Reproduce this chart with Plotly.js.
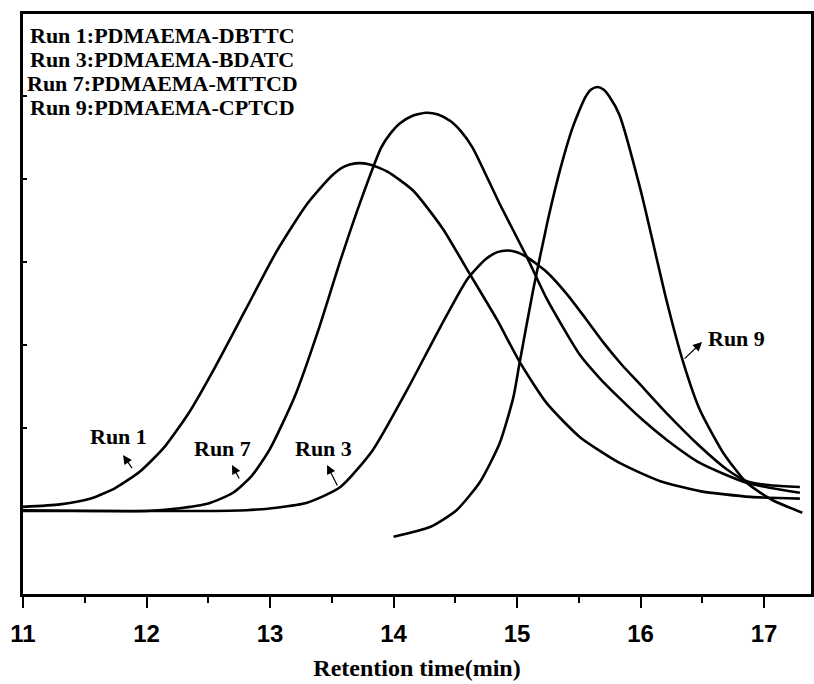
<!DOCTYPE html>
<html>
<head>
<meta charset="utf-8">
<script src="https://cdn.plot.ly/plotly-3.0.1.min.js"></script>
<style>
  html, body { margin: 0; padding: 0; background: #fff; }
  #gpc { width: 814px; height: 684px; }
</style>
</head>
<body>
<div id="gpc"></div>
<script>
// GPC traces: retention time (min) vs detector response (arbitrary units)
const run1X = [11.00, 11.30, 11.55, 11.75, 11.95, 12.15, 12.35, 12.55, 12.80, 13.05, 13.30, 13.50, 13.60, 13.69, 13.80, 13.95, 14.16, 14.40, 14.60, 14.84, 15.02, 15.24, 15.51, 15.83, 16.16, 16.48, 16.89, 17.29];
const run1Y = [1.05, 1.08, 1.15, 1.28, 1.48, 1.78, 2.20, 2.72, 3.42, 4.12, 4.70, 5.04, 5.15, 5.19, 5.18, 5.09, 4.86, 4.40, 3.90, 3.30, 2.80, 2.30, 1.89, 1.58, 1.36, 1.24, 1.17, 1.15];

const run3X = [11.00, 12.40, 12.81, 13.05, 13.30, 13.57, 13.83, 14.11, 14.38, 14.60, 14.75, 14.84, 14.92, 15.00, 15.08, 15.24, 15.40, 15.55, 15.70, 15.85, 16.00, 16.21, 16.48, 16.70, 16.86, 17.05, 17.29];
const run3Y = [1.00, 1.00, 1.01, 1.04, 1.10, 1.29, 1.73, 2.46, 3.22, 3.80, 4.04, 4.12, 4.14, 4.12, 4.06, 3.88, 3.62, 3.33, 3.03, 2.76, 2.52, 2.18, 1.78, 1.50, 1.36, 1.31, 1.29];

const run7X = [11.00, 11.60, 12.00, 12.25, 12.50, 12.70, 12.85, 13.00, 13.20, 13.40, 13.57, 13.73, 13.90, 13.98, 14.05, 14.15, 14.26, 14.36, 14.46, 14.55, 14.64, 14.86, 15.08, 15.24, 15.51, 15.67, 15.83, 16.00, 16.21, 16.48, 16.86, 17.29];
const run7Y = [1.01, 1.00, 1.00, 1.03, 1.09, 1.22, 1.42, 1.75, 2.38, 3.22, 4.02, 4.72, 5.38, 5.56, 5.67, 5.76, 5.80, 5.78, 5.70, 5.57, 5.38, 4.70, 4.06, 3.56, 2.88, 2.60, 2.36, 2.12, 1.86, 1.58, 1.34, 1.22];

const run9X = [14.00, 14.30, 14.51, 14.70, 14.86, 14.97, 15.02, 15.13, 15.25, 15.35, 15.45, 15.55, 15.60, 15.65, 15.70, 15.75, 15.83, 16.00, 16.21, 16.34, 16.48, 16.67, 16.86, 17.07, 17.31];
const run9Y = [0.69, 0.81, 1.01, 1.35, 1.82, 2.37, 2.78, 3.66, 4.51, 5.12, 5.62, 5.98, 6.08, 6.11, 6.08, 5.99, 5.77, 4.87, 3.54, 2.82, 2.22, 1.70, 1.34, 1.13, 0.98];

const legendLines = ['Run 1:PDMAEMA-DBTTC', 'Run 3:PDMAEMA-BDATC', 'Run 7:PDMAEMA-MTTCD', 'Run 9:PDMAEMA-CPTCD'];
const xTickVals = [11, 12, 13, 14, 15, 16, 17];
const xTickText = ['11', '12', '13', '14', '15', '16', '17'];

const curveLine = { color: '#000', width: 2.6, shape: 'spline', smoothing: 0.6 };
const mk = (x, y, name) => ({ x, y, name, type: 'scatter', mode: 'lines', line: curveLine, hoverinfo: 'skip' });

const traces = [
  mk(run1X, run1Y, 'Run 1'),
  mk(run3X, run3Y, 'Run 3'),
  mk(run7X, run7Y, 'Run 7'),
  mk(run9X, run9Y, 'Run 9')
];

const serif = 'Liberation Serif, Times New Roman, serif';
const labelFont = { family: serif, size: 22, color: '#000', weight: 'bold' };

// Key block in the upper-left corner
const legendY = [6.735, 6.440, 6.151, 5.861];
const annotations = legendLines.map((t, i) => ({
  xref: 'x', yref: 'y', x: 12.126, y: legendY[i],
  text: t, showarrow: false, xanchor: 'center', yanchor: 'middle',
  font: { family: serif, size: 22, color: '#000', weight: 'bold' }
}));

// Curve labels with small arrows pointing away from the curves
const tags = [
  { t: 'Run 1', tx: 11.777, ty: 1.904, hx: 11.810, hy: 1.675, sx: 11.891, sy: 1.50 },
  { t: 'Run 7', tx: 12.619, ty: 1.759, hx: 12.692, hy: 1.554, sx: 12.757, sy: 1.373 },
  { t: 'Run 3', tx: 13.429, ty: 1.759, hx: 13.462, hy: 1.554, sx: 13.551, sy: 1.289 },
  { t: 'Run 9', tx: 16.773, ty: 3.084, hx: 16.498, hy: 3.036, sx: 16.344, sy: 2.819 }
];
tags.forEach(g => {
  annotations.push({
    xref: 'x', yref: 'y', x: g.tx, y: g.ty, text: g.t, showarrow: false,
    xanchor: 'center', yanchor: 'middle', font: labelFont
  });
  annotations.push({
    xref: 'x', yref: 'y', axref: 'x', ayref: 'y',
    x: g.hx, y: g.hy, ax: g.sx, ay: g.sy, text: '',
    showarrow: true, arrowhead: 2, arrowsize: 1.5, arrowwidth: 1.2, arrowcolor: '#000'
  });
});

const layout = {
  width: 814, height: 684,
  margin: { l: 23, r: 3, t: 14, b: 90 },
  paper_bgcolor: '#fff', plot_bgcolor: '#fff',
  showlegend: false,
  xaxis: {
    range: [11, 17.38], showgrid: false, zeroline: false,
    showline: true, linecolor: '#000', linewidth: 2.8, mirror: true,
    ticks: 'outside', ticklen: 11, tickwidth: 2, tickcolor: '#000',
    tickvals: xTickVals, ticktext: xTickText, ticklabelstandoff: 5,
    tickfont: { family: 'Liberation Sans Narrow, Arial Narrow, Liberation Sans, Arial, sans-serif', size: 24, color: '#000', weight: 'bold' },
    minor: { dtick: 0.5, tick0: 11, ticks: 'outside', ticklen: 6, tickwidth: 2, tickcolor: '#000', showgrid: false },
    title: { text: 'Retention time(min)', font: { family: serif, size: 24, color: '#000', weight: 'bold' }, standoff: 14 }
  },
  yaxis: {
    range: [0, 6.99], showgrid: false, zeroline: false,
    showline: true, linecolor: '#000', linewidth: 2.8, mirror: true,
    ticks: 'inside', ticklen: 4, tickwidth: 1.5, tickcolor: '#000',
    dtick: 1, tick0: 0, showticklabels: false
  },
  annotations
};

Plotly.newPlot('gpc', traces, layout, { staticPlot: true, displayModeBar: false });
</script>
</body>
</html>
